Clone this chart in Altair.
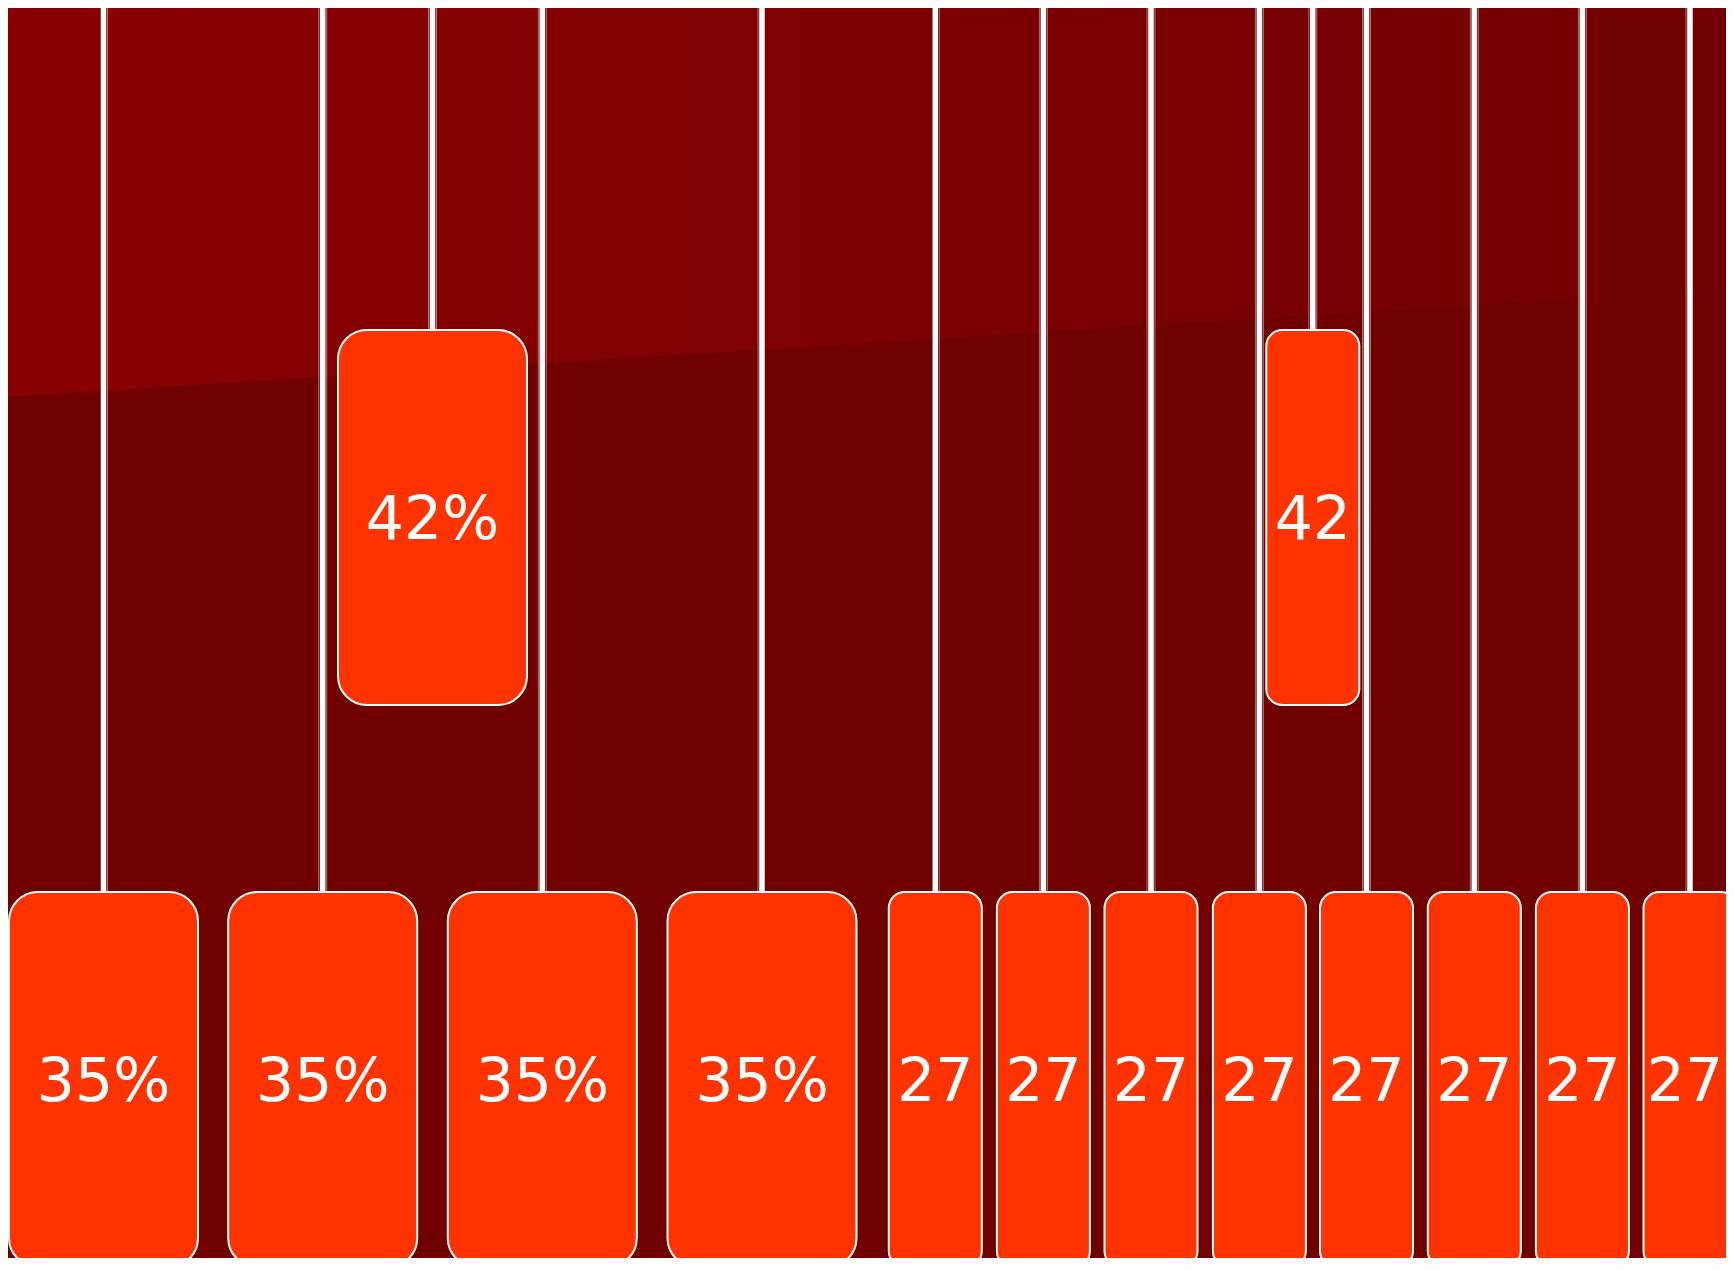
import altair as alt
import pandas as pd

# ---- data (reference-pixel layout units) ----
mid_pos = [432.5, 1312.8]
mid_labels = ["42%", "42%"]
mid_kind = ["wide", "narrow"]
mid_group = ["A", "B"]

leaf_pos = [103.5, 322.7, 542.3, 762.0, 935.3, 1043.4, 1151.0, 1259.4,
            1366.5, 1474.3, 1582.4, 1690.0]
leaf_labels = ["35%", "35%", "35%", "35%", "27%", "27%", "27%", "27%",
               "27%", "27%", "27%", "27%"]
leaf_kind = ["wide", "wide", "wide", "wide", "narrow", "narrow", "narrow",
             "narrow", "narrow", "narrow", "narrow", "narrow"]
leaf_group = ["A", "A", "A", "A", "B", "B", "B", "B", "B", "B", "B", "B"]

row_top = {1: 330.0, 2: 892.0}

# ---- styling constants ----
W_PAGE, H_PAGE, MARGIN = 1734, 1270, 8
CHART_W, CHART_H = 1718, 1250
BOX_H = 375.0
BOX_W = {"wide": 189.0, "narrow": 93.0}
RADIUS = {"wide": 29, "narrow": 16}
FILL = "#ff3300"
BG = "#700000"
EDGE_OFF = 4.0
FONT_SIZE = 60
TEXT_MAX_X = MARGIN + CHART_W - 41  # keep labels inside the visible page

rows = []
for p, l, k, g in zip(mid_pos, mid_labels, mid_kind, mid_group):
    rows.append(dict(pos=p, label=l, kind=k, group=g, level=1))
for p, l, k, g in zip(leaf_pos, leaf_labels, leaf_kind, leaf_group):
    rows.append(dict(pos=p, label=l, kind=k, group=g, level=2))
nodes = pd.DataFrame(rows)
nodes["top"] = nodes["level"].map(row_top)
nodes["bottom"] = nodes["top"] + BOX_H
nodes["left"] = nodes["pos"] - nodes["kind"].map(BOX_W) / 2
nodes["right"] = nodes["pos"] + nodes["kind"].map(BOX_W) / 2
nodes["ycenter"] = nodes["top"] + BOX_H / 2
nodes["stemtop"] = 0.0

# thin edges of the cells between consecutive stems of each group
edges = []
for g, sub in nodes.sort_values("pos").groupby("group"):
    recs = sub.to_dict("records")
    for a, b in zip(recs[:-1], recs[1:]):
        edges.append(dict(x=a["pos"] + EDGE_OFF, y=3.5, y2=a["top"]))
        edges.append(dict(x=b["pos"] - EDGE_OFF, y=3.5, y2=b["top"]))
edge_df = pd.DataFrame(edges)

bgshape = pd.DataFrame({"x": [0.0, float(W_PAGE)], "y": [397.0, 289.0],
                        "y2": [0.0, 0.0]})

xs = alt.Scale(domain=[MARGIN, MARGIN + CHART_W], nice=False, zero=False)
ys = alt.Scale(domain=[MARGIN, MARGIN + CHART_H], nice=False, zero=False,
               reverse=True)

def X(f):
    return alt.X(f, type="quantitative", scale=xs, axis=None)

def Y(f):
    return alt.Y(f, type="quantitative", scale=ys, axis=None)

upper = alt.Chart(bgshape).mark_area(
    fill=alt.Gradient(
        gradient="linear",
        stops=[alt.GradientStop(color="#8a0000", offset=0),
               alt.GradientStop(color="#7a0000", offset=0.6),
               alt.GradientStop(color="#720000", offset=1)],
        x1=0, x2=1, y1=0, y2=0),
    clip=True,
).encode(x=X("x"), y=Y("y"), y2="y2")

edge_lines = alt.Chart(edge_df).mark_rule(
    color="white", opacity=0.45, strokeWidth=1, clip=True
).encode(x=X("x"), y=Y("y"), y2="y2")

stems = alt.Chart(nodes).mark_rule(color="white", strokeWidth=5.5, clip=True).encode(
    x=X("pos"), y=Y("stemtop"), y2="top")

layers = [upper, edge_lines, stems]
for kind in ["wide", "narrow"]:
    base = alt.Chart(nodes).transform_filter(alt.datum.kind == kind)
    layers.append(base.mark_rect(
        fill=FILL, stroke="white", strokeWidth=2, cornerRadius=RADIUS[kind],
        clip=True).encode(x=X("left"), x2="right", y=Y("top"), y2="bottom"))
    layers.append(base.transform_calculate(
        xt=f"min(datum.pos, {TEXT_MAX_X})"
    ).mark_text(
        font="DejaVu Sans", fontSize=FONT_SIZE, color="white", align="center",
        baseline="middle", dy=3, limit=BOX_W[kind] - 3, ellipsis="\u200b"
    ).encode(x=X("xt"), y=Y("ycenter"), text="label:N"))

chart = alt.layer(*layers).properties(
    width=CHART_W, height=CHART_H,
    autosize=alt.AutoSizeParams(type="none"), padding=0, background=BG,
).configure_view(strokeWidth=0)

chart.save("out.html", embed_options={"renderer": "svg", "actions": False})
